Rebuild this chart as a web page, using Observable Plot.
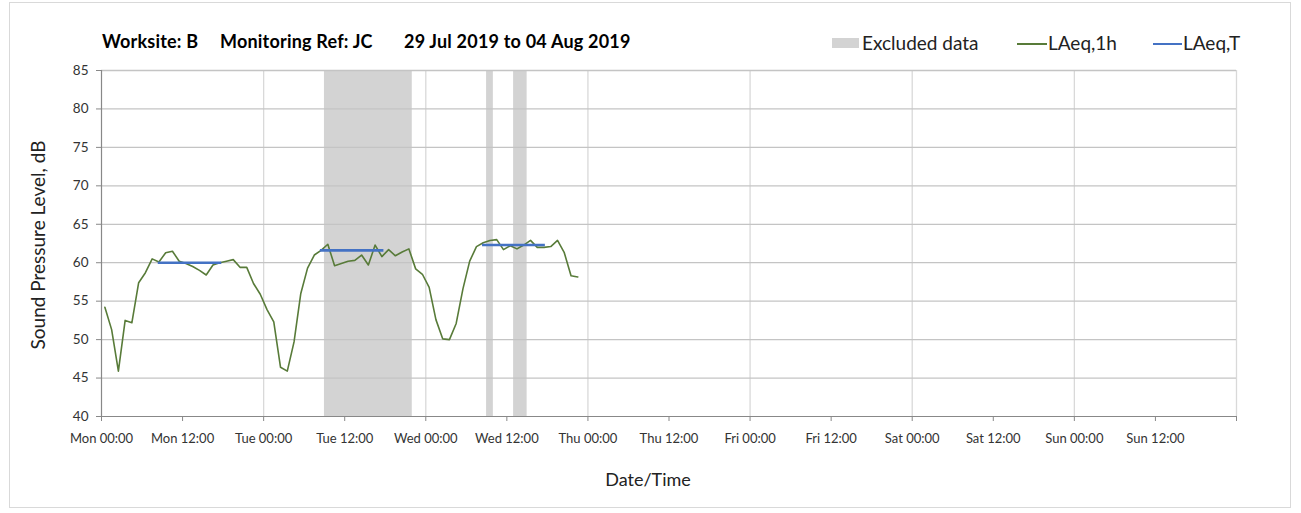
<!DOCTYPE html>
<html><head><meta charset="utf-8">
<script src="https://cdn.jsdelivr.net/npm/d3@7"></script>
<script src="https://cdn.jsdelivr.net/npm/@observablehq/plot@0.6"></script>
<style>
body{margin:0;background:#fff;font-family:Lato,"Open Sans",sans-serif;}
#wrap{position:relative;width:1301px;height:513px;overflow:hidden;background:#fff;}
#frame{position:absolute;left:9px;top:2px;width:1282px;height:506px;border:1px solid #d9d9d9;box-sizing:border-box;}
.t{position:absolute;white-space:nowrap;color:#000;line-height:20px;}
.title{font-weight:bold;font-size:18px;top:31px;letter-spacing:0.2px;}
.leg{font-size:19px;top:33px;color:#222;}
.sw{position:absolute;}
#chart{position:absolute;left:0;top:0;}
</style></head><body>
<div id="wrap">
  <div id="frame"></div>
  <div id="chart"></div>
</div>
<script>
// ---- data ----
const titleParts = ["Worksite: B", "Monitoring Ref: JC", "29 Jul 2019 to 04 Aug 2019"];
const legendLabels = ["Excluded data", "LAeq,1h", "LAeq,T"];
const yLabel = "Sound Pressure Level, dB";
const xLabel = "Date/Time";
const xTickHours = [0, 12, 24, 36, 48, 60, 72, 84, 96, 108, 120, 132, 144, 156, 168];
const xTickLabels = ["Mon 00:00", "Mon 12:00", "Tue 00:00", "Tue 12:00", "Wed 00:00", "Wed 12:00", "Thu 00:00", "Thu 12:00", "Fri 00:00", "Fri 12:00", "Sat 00:00", "Sat 12:00", "Sun 00:00", "Sun 12:00", ""];
const yTicks = [40, 45, 50, 55, 60, 65, 70, 75, 80, 85];
const dayLines = [24, 48, 72, 96, 120, 144, 168];

// hourly LAeq,1h (hours since Mon 00:00, mid-hour)
const hours = [0.5,1.5,2.5,3.5,4.5,5.5,6.5,7.5,8.5,9.5,10.5,11.5,12.5,13.5,14.5,15.5,16.5,17.5,18.5,19.5,20.5,21.5,22.5,23.5,
  24.5,25.5,26.5,27.5,28.5,29.5,30.5,31.5,32.5,33.5,34.5,35.5,36.5,37.5,38.5,39.5,40.5,41.5,42.5,43.5,44.5,45.5,46.5,47.5,
  48.5,49.5,50.5,51.5,52.5,53.5,54.5,55.5,56.5,57.5,58.5,59.5,60.5,61.5,62.5,63.5,64.5,65.5,66.5,67.5,68.5,69.5,70.5];
const laeq1h = [54.2,51.3,45.9,52.5,52.2,57.4,58.7,60.5,60.1,61.3,61.5,60.2,59.9,59.5,59.0,58.4,59.7,60.0,60.2,60.4,59.4,59.4,57.3,55.9,
  53.9,52.3,46.4,45.9,49.7,56.0,59.3,61.0,61.6,62.4,59.6,59.9,60.2,60.3,61.0,59.7,62.3,60.8,61.7,60.9,61.4,61.8,59.2,58.5,
  56.8,52.6,50.1,50.0,52.1,56.6,60.2,62.1,62.6,62.9,63.0,61.7,62.2,61.8,62.3,62.9,62.0,62.0,62.1,62.9,61.3,58.3,58.15];

// LAeq,T periods
const laeqTStart = [8.4, 32.4, 56.4];
const laeqTEnd = [17.8, 41.8, 65.7];
const laeqTValue = [60.0, 61.6, 62.3];

// excluded data periods
const excludedStart = [33.0, 57.0, 61.0];
const excludedEnd = [46.0, 58.0, 63.0];

// ---- build ----
const lineData = hours.map((h, i) => ({h, v: laeq1h[i]}));
const tData = laeqTStart.map((s, i) => ({s, e: laeqTEnd[i], v: laeqTValue[i]}));
const exData = excludedStart.map((s, i) => ({s, e: excludedEnd[i]}));

const GREEN = "#587b39", BLUE = "#4472c4", GREY = "#d3d3d3";

const chart = Plot.plot({
  width: 1301, height: 513,
  marginLeft: 101, marginRight: 65, marginTop: 70, marginBottom: 97,
  style: {fontFamily: "Lato, 'Open Sans', sans-serif", background: "transparent", color: "#333"},
  x: {domain: [0, 168], axis: null},
  y: {domain: [40, 85], axis: null},
  marks: [
    Plot.rect(exData, {x1: "s", x2: "e", y1: 40, y2: 85, fill: GREY}),
    Plot.ruleX(dayLines, {stroke: "#d9d9d9", strokeWidth: 1.3}),
    Plot.ruleY(yTicks.filter(d => d > 40), {stroke: "#c4c4c4", strokeWidth: 1.3}),
    Plot.axisY({ticks: yTicks, tickSize: 5, tickPadding: 8, fontSize: 13.5, stroke: "#888", label: null, tickFormat: d => String(d)}),
    Plot.axisX({ticks: xTickHours, tickSize: 5, tickPadding: 12, fontSize: 13, stroke: "#888", label: null,
      tickFormat: d => xTickLabels[xTickHours.indexOf(d)]}),
    Plot.ruleY([40], {stroke: "#888", strokeWidth: 1.2}),
    Plot.ruleX([0], {stroke: "#888", strokeWidth: 1.2, y1: 40, y2: 85}),
    Plot.line(lineData, {x: "h", y: "v", stroke: GREEN, strokeWidth: 1.6}),
    Plot.ruleY(tData, {x1: "s", x2: "e", y: "v", stroke: BLUE, strokeWidth: 2.6})
  ]
});
document.getElementById("chart").appendChild(chart);

const wrap = document.getElementById("wrap");
function addText(txt, cls, left, style) {
  const d = document.createElement("div");
  d.className = "t " + cls;
  d.textContent = txt;
  d.style.left = left + "px";
  if (style) Object.assign(d.style, style);
  wrap.appendChild(d);
  return d;
}
// title
addText(titleParts[0], "title", 102);
addText(titleParts[1], "title", 220);
addText(titleParts[2], "title", 404);
// legend
function swatch(left, top, w, h, color) {
  const s = document.createElement("div");
  s.className = "sw";
  Object.assign(s.style, {left: left + "px", top: top + "px", width: w + "px", height: h + "px", background: color});
  wrap.appendChild(s);
}
swatch(832, 38, 27, 10, GREY);
addText(legendLabels[0], "leg", 862);
swatch(1017, 43, 30, 1.6, GREEN);
addText(legendLabels[1], "leg", 1048);
swatch(1153, 42.5, 29, 2.6, BLUE);
addText(legendLabels[2], "leg", 1183);
// axis titles
addText(yLabel, "", 38, {top: "245px", fontSize: "19px", color: "#222", transform: "translate(-50%,-50%) rotate(-90deg)"});
addText(xLabel, "", 648, {top: "479px", fontSize: "18px", color: "#222", transform: "translate(-50%,-50%)"});
</script>
</body></html>
